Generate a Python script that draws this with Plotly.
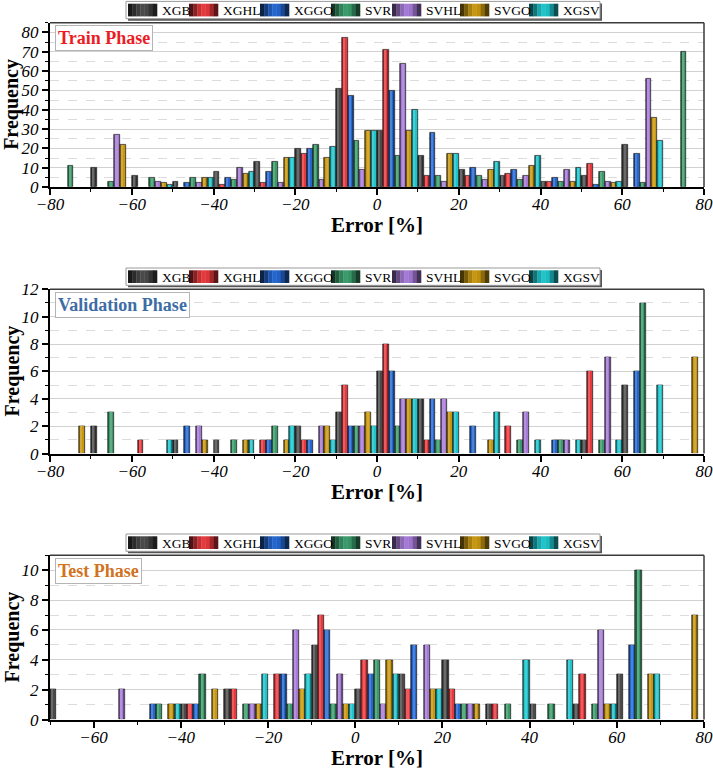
import plotly.graph_objects as go

# ---------------- data ----------------
bins = [-75, -65, -55, -45, -35, -25, -15, -5, 5, 15, 25, 35, 45, 55, 65, 75]
models = ["XGB", "XGHL", "XGGO", "SVR", "SVHL", "SVGO", "XGSV"]

# Train phase frequencies (per bin)
train_XGB  = [0, 10, 6, 3, 8, 13, 20, 51, 29, 16, 9, 6, 3, 6, 22, 0]
train_XGHL = [0, 0, 0, 0, 1, 2, 17, 77, 71, 6, 6, 7, 3, 12, 0, 0]
train_XGGO = [0, 0, 0, 2, 5, 8, 20, 47, 50, 28, 10, 9, 5, 1, 17, 0]
train_SVR  = [11, 3, 5, 5, 4, 13, 22, 24, 16, 6, 6, 4, 3, 8, 2, 70]
train_SVHL = [0, 27, 3, 2, 10, 2, 4, 9, 64, 3, 4, 6, 9, 3, 56, 0]
train_SVGO = [0, 22, 2, 5, 7, 15, 15, 29, 29, 17, 9, 11, 3, 2, 36, 0]
train_XGSV = [0, 0, 1, 5, 8, 15, 21, 29, 40, 17, 13, 16, 10, 3, 24, 0]

# Validation phase frequencies
val_XGB  = [0, 2, 0, 1, 1, 0, 2, 3, 6, 4, 0, 0, 0, 1, 5, 0]
val_XGHL = [0, 0, 1, 0, 0, 1, 1, 5, 8, 1, 0, 2, 0, 6, 0, 0]
val_XGGO = [0, 0, 0, 2, 0, 1, 1, 2, 6, 4, 2, 0, 1, 0, 6, 0]
val_SVR  = [0, 3, 0, 0, 1, 2, 0, 2, 2, 1, 0, 1, 1, 1, 11, 0]
val_SVHL = [0, 0, 0, 2, 0, 0, 2, 2, 4, 4, 0, 3, 1, 7, 0, 0]
val_SVGO = [2, 0, 0, 1, 1, 1, 2, 3, 4, 3, 1, 0, 0, 0, 0, 7]
val_XGSV = [0, 0, 1, 0, 1, 2, 1, 2, 4, 3, 3, 1, 1, 1, 5, 0]

# Test phase frequencies
test_XGB  = [0, 2, 0, 0, 1, 2, 0, 5, 2, 3, 4, 1, 1, 1, 3, 0]
test_XGHL = [0, 0, 0, 0, 1, 2, 3, 7, 4, 2, 2, 1, 0, 3, 0, 0]
test_XGGO = [0, 0, 0, 1, 1, 0, 3, 6, 3, 5, 1, 0, 0, 0, 5, 0]
test_SVR  = [0, 0, 0, 1, 3, 1, 1, 1, 4, 0, 1, 1, 1, 1, 10, 0]
test_SVHL = [0, 0, 2, 0, 0, 1, 6, 3, 1, 5, 1, 0, 0, 6, 0, 0]
test_SVGO = [0, 0, 0, 1, 2, 1, 2, 1, 4, 2, 1, 0, 0, 1, 3, 7]
test_XGSV = [0, 0, 0, 1, 0, 3, 3, 1, 3, 2, 0, 4, 4, 1, 3, 0]

phase_names = ["Train Phase", "Validation Phase", "Test Phase"]

# ---------------- styles ----------------
colors = ["#4a4a4a", "#e6393e", "#2466cf", "#3a9a6a", "#a57ad6", "#c8970f", "#1fc4cb"]
title_colors = ["#ec1c24", "#3e6ca5", "#d0721e"]
serif = "Liberation Serif, Times New Roman, serif"

W, H = 713, 771
PL, PR = 50, 704
tops = [22.7, 289.3, 555.3]
PH = 164.3
x_ranges = [[-80, 80], [-80, 80], [-70, 80]]
y_ranges = [[0, 85], [0, 12], [0, 11]]
y_dticks = [10, 2, 2]
y_minor = [5, 1, 1]

phases = [
    [train_XGB, train_XGHL, train_XGGO, train_SVR, train_SVHL, train_SVGO, train_XGSV],
    [val_XGB, val_XGHL, val_XGGO, val_SVR, val_SVHL, val_SVGO, val_XGSV],
    [test_XGB, test_XGHL, test_XGGO, test_SVR, test_SVHL, test_SVGO, test_XGSV],
]


def px_x(px):
    return px / W


def px_y(py):
    return 1 - py / H


def shade(hexcol, f):
    c = hexcol.lstrip("#")
    r, g, b = int(c[0:2], 16), int(c[2:4], 16), int(c[4:6], 16)
    if f <= 1:
        r, g, b = [int(v * f) for v in (r, g, b)]
    else:
        t = f - 1
        r, g, b = [int(v + (255 - v) * t) for v in (r, g, b)]
    return f"rgb({r},{g},{b})"


fig = go.Figure()
n = len(models)
bw = 10 / n
for p, series in enumerate(phases):
    xa = "x" if p == 0 else f"x{p+1}"
    ya = "y" if p == 0 else f"y{p+1}"
    for i, vals in enumerate(series):
        yv = [v if v else None for v in vals]
        # base bar (darker edges)
        fig.add_trace(go.Bar(
            x=bins, y=yv, width=bw, offset=-5 + i * bw,
            name=models[i], xaxis=xa, yaxis=ya,
            marker=dict(color=shade(colors[i], 0.62), line=dict(color="#1a1a1a", width=0.6)),
            showlegend=False,
        ))
        # mid tone
        fig.add_trace(go.Bar(
            x=bins, y=yv, width=bw * 0.62, offset=-5 + i * bw + bw * 0.17,
            name=models[i], xaxis=xa, yaxis=ya, hoverinfo="skip",
            marker=dict(color=colors[i], line=dict(width=0)),
            showlegend=False,
        ))
        # highlight
        fig.add_trace(go.Bar(
            x=bins, y=yv, width=bw * 0.26, offset=-5 + i * bw + bw * 0.3,
            name=models[i], xaxis=xa, yaxis=ya, hoverinfo="skip",
            marker=dict(color=shade(colors[i], 1.18), line=dict(width=0)),
            showlegend=False,
        ))

layout = dict(
    width=W, height=H,
    margin=dict(l=0, r=0, t=0, b=0),
    paper_bgcolor="white", plot_bgcolor="white",
    barmode="overlay", bargap=0,
    showlegend=False,
)

tickfont = dict(family=serif, size=17, color="black", style="italic")
shapes = []
annotations = []

for p in range(3):
    sx = "" if p == 0 else str(p + 1)
    top = tops[p]
    bot = top + PH
    layout["xaxis" + sx] = dict(
        domain=[px_x(PL), px_x(PR)], anchor="y" + sx,
        range=x_ranges[p], tickmode="linear", tick0=-80, dtick=20,
        ticks="outside", ticklen=6, tickwidth=1.5, tickcolor="black",
        minor=dict(dtick=10, ticks="outside", ticklen=3, tickwidth=1.2, tickcolor="black"),
        showline=True, linecolor="black", linewidth=2,
        showgrid=False, zeroline=False, tickfont=tickfont, automargin=False,
        ticklabelstandoff=-5,
    )
    layout["yaxis" + sx] = dict(
        domain=[px_y(bot), px_y(top)], anchor="x" + sx,
        range=y_ranges[p], tickmode="linear", tick0=0, dtick=y_dticks[p],
        ticks="outside", ticklen=6, tickwidth=1.5, tickcolor="black",
        minor=dict(dtick=y_minor[p], ticks="outside", ticklen=3, tickwidth=1.2,
                   tickcolor="black", showgrid=True, gridcolor="#dcdcdc",
                   griddash="dash", gridwidth=1),
        showline=True, linecolor="black", linewidth=2,
        showgrid=True, gridcolor="#d2d2d2", gridwidth=1.2,
        zeroline=False, tickfont=tickfont, automargin=False,
    )
    # top & right frame
    shapes.append(dict(type="line", xref="paper", yref="paper",
                       x0=px_x(PL), x1=px_x(PR), y0=px_y(top), y1=px_y(top),
                       line=dict(color="#3a3a3a", width=1.5)))
    shapes.append(dict(type="line", xref="paper", yref="paper",
                       x0=px_x(PR), x1=px_x(PR), y0=px_y(top), y1=px_y(bot),
                       line=dict(color="#3a3a3a", width=1.5)))

    # axis titles
    annotations.append(dict(text="<b>Frequency</b>", xref="paper", yref="paper",
                            x=px_x(12), y=px_y((top + bot) / 2), textangle=-90,
                            showarrow=False, xanchor="center", yanchor="middle",
                            font=dict(family=serif, size=20, color="black")))
    annotations.append(dict(text="<b>Error [%]</b>", xref="paper", yref="paper",
                            x=px_x((PL + PR) / 2), y=px_y(bot + 38),
                            showarrow=False, xanchor="center", yanchor="middle",
                            font=dict(family=serif, size=21, color="black")))
    # phase label box
    annotations.append(dict(text="<b>" + phase_names[p] + "</b>", xref="paper", yref="paper",
                            x=px_x(55), y=px_y(top + 2.5), xanchor="left", yanchor="top",
                            showarrow=False, bgcolor="white", bordercolor="#b4b4b4",
                            borderwidth=1, borderpad=2,
                            font=dict(family=serif, size=18, color=title_colors[p])))

    # custom legend box
    lt = top - 21.3
    lb = lt + 17.3
    shapes.append(dict(type="rect", xref="paper", yref="paper",
                       x0=px_x(128), x1=px_x(602), y0=px_y(lb + 2), y1=px_y(lt + 2),
                       fillcolor="#555555", line=dict(width=0), layer="above"))
    shapes.append(dict(type="rect", xref="paper", yref="paper",
                       x0=px_x(126), x1=px_x(600), y0=px_y(lb), y1=px_y(lt),
                       fillcolor="white", line=dict(color="#9a9a9a", width=1), layer="above"))
    sw_x = [128, 189, 260, 331, 392, 460, 529]
    factors = [0.35, 0.6, 0.85, 1.0, 0.95, 0.7, 0.4]
    for i, m in enumerate(models):
        sw = 29 / len(factors)
        for k, f in enumerate(factors):
            shapes.append(dict(type="rect", xref="paper", yref="paper",
                               x0=px_x(sw_x[i] + k * sw), x1=px_x(sw_x[i] + (k + 1) * sw + 0.3),
                               y0=px_y(lt + 15), y1=px_y(lt + 2.3),
                               fillcolor=shade(colors[i], f), line=dict(width=0), layer="above"))
        annotations.append(dict(text=m, xref="paper", yref="paper",
                                x=px_x(sw_x[i] + 32), y=px_y((lt + lb) / 2 + 0.5),
                                xanchor="left", yanchor="middle", showarrow=False,
                                font=dict(family=serif, size=13.5, color="black")))

layout["shapes"] = shapes
layout["annotations"] = annotations
fig.update_layout(**layout)
fig.write_html("out.html")
